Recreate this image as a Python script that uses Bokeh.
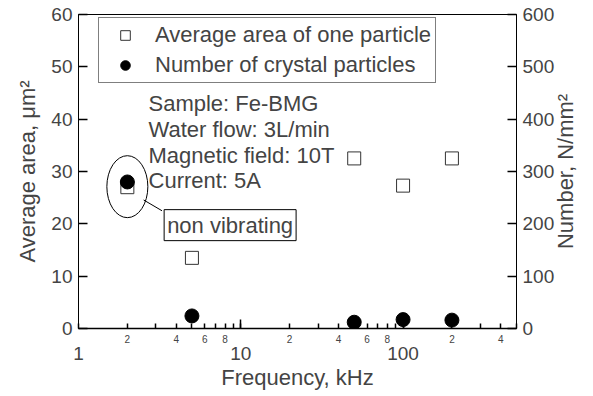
import math
from bokeh.plotting import figure
from bokeh.models import (Range1d, LinearAxis, LogAxis, FixedTicker, Legend, LegendItem,
                          Label)
from bokeh.embed import file_html
from bokeh.resources import INLINE

# ---- data ----
freq = [2, 5, 50, 100, 200]
avg_area = [27.0, 13.5, 32.5, 27.3, 32.5]
num_particles = [280, 24, 12, 17, 16]

y_left_ticks = [0, 10, 20, 30, 40, 50, 60]
y_right_ticks = [0, 100, 200, 300, 400, 500, 600]
x_major = [1, 10, 100]
x_minor = [2, 3, 4, 5, 6, 7, 8, 9, 20, 30, 40, 50, 60, 70, 80, 90, 200, 300, 400, 500]
x_minor_labels = {2: "2", 4: "4", 6: "6", 8: "8", 20: "2", 40: "4", 60: "6", 80: "8",
                  200: "2", 400: "4"}

info_lines = ["Sample: Fe-BMG", "Water flow: 3L/min", "Magnetic field: 10T", "Current: 5A"]
right_title = "Number, N/mm²"

FONT = "Liberation Sans"

p = figure(width=593, height=396, x_axis_type="log",
           x_range=Range1d(1, 500), y_range=Range1d(0, 60),
           x_axis_location=None, y_axis_location=None,
           output_backend="svg", toolbar_location=None,
           min_border_left=78, min_border_right=77, min_border_top=14, min_border_bottom=68)
p.extra_y_ranges = {"num": Range1d(0, 600)}
p.grid.visible = False
p.outline_line_color = "black"
p.outline_line_width = 1
p.background_fill_color = "white"
p.border_fill_color = "white"


def style_axis(ax, size="19px"):
    ax.major_label_text_font = FONT
    ax.major_label_text_font_size = size
    ax.axis_label_text_font = FONT
    ax.axis_label_text_font_size = "22px"
    ax.axis_label_text_font_style = "normal"
    ax.axis_line_color = "black"
    ax.major_tick_line_color = "black"
    ax.minor_tick_line_color = "black"


# left y axis
yl = LinearAxis(ticker=FixedTicker(ticks=y_left_ticks, minor_ticks=[]),
                axis_label="Average area, μm²")
style_axis(yl)
yl.major_tick_in = 9
yl.major_tick_out = 0
yl.major_tick_line_width = 1.5
yl.major_label_standoff = 6
yl.axis_label_standoff = 8
p.add_layout(yl, "left")

# right y axis (title reads bottom-to-top, starting from the lower part of the axis)
yr = LinearAxis(y_range_name="num", ticker=FixedTicker(ticks=y_right_ticks, minor_ticks=[]),
                axis_label="\u00a0" * 13 + right_title)
style_axis(yr)
yr.major_tick_in = 9
yr.major_tick_out = 0
yr.major_tick_line_width = 1.5
yr.major_label_standoff = 6
yr.axis_label_standoff = 8
yr.axis_label_orientation = math.pi / 2
yr.axis_label_align = "start"
p.add_layout(yr, "right")

# x axis: line, minor ticks and small labels
all_x = sorted(x_major + x_minor)
overrides = {t: x_minor_labels.get(t, "") for t in all_x}
xa = LogAxis(ticker=FixedTicker(ticks=all_x, minor_ticks=[]), major_label_overrides=overrides)
style_axis(xa, "10px")
xa.axis_line_width = 1.5
xa.major_tick_line_width = 1.5
xa.major_tick_in = 5
xa.major_tick_out = 0
xa.major_label_standoff = 6
p.add_layout(xa, "below")

# x axis: decade labels and title
xb = LogAxis(ticker=FixedTicker(ticks=x_major, minor_ticks=[]),
             major_label_overrides={t: str(t) for t in x_major},
             axis_label="Frequency, kHz")
style_axis(xb)
xb.axis_line_color = None
xb.major_tick_line_color = None
xb.major_tick_in = 0
xb.major_tick_out = 0
xb.major_label_standoff = 1
xb.axis_label_standoff = 2
p.add_layout(xb, "below")

# long decade ticks
xc = LogAxis(ticker=FixedTicker(ticks=x_major[1:], minor_ticks=[]), fixed_location=0,
             major_label_overrides={t: " " for t in x_major[1:]})
xc.axis_line_color = None
xc.major_label_text_font_size = "10px"
xc.major_tick_in = 9
xc.major_tick_out = 0
xc.major_tick_line_width = 1.5
xc.major_tick_line_color = "black"
p.add_layout(xc, "below")

# data
sq = p.scatter(freq, avg_area, marker="square", size=13, fill_color="white",
               line_color="#333333", line_width=1)
ci = p.scatter(freq, num_particles, marker="circle", size=14, fill_color="black",
               line_color="black", y_range_name="num")

legend = Legend(items=[LegendItem(label="Average area of one particle", renderers=[sq]),
                       LegendItem(label="Number of crystal particles", renderers=[ci])],
                location=(20, 245))
legend.label_text_font = FONT
legend.label_text_font_size = "22px"
legend.border_line_color = "black"
legend.border_line_width = 1
legend.background_fill_alpha = 1
legend.glyph_width = 44
legend.glyph_height = 24
legend.label_height = 24
legend.spacing = 4
legend.padding = 4
legend.label_standoff = 8
legend.label_width = 274
legend.margin = 0
p.add_layout(legend)

# info text block (positions in data coords)
info_x = 2.70
info_y = [42.9, 38.0, 33.0, 28.2]
for t, yy in zip(info_lines, info_y):
    p.add_layout(Label(x=info_x, y=yy, text=t, text_font=FONT, text_font_size="22px",
                       text_baseline="alphabetic", text_align="left"))

# ellipse around non-vibrating point
p.ellipse(x=[2], y=[27.1], width=41, height=62, width_units="screen", height_units="screen",
          fill_color=None, line_color="black", line_width=1)
p.segment(x0=[2.52], y0=[24.56], x1=[3.27], y1=[22.5], line_color="black", line_width=1)

p.add_layout(Label(x=3.37, y=19.75, text="non vibrating", text_font=FONT,
                   text_font_size="22px", text_baseline="middle", text_align="left",
                   border_line_color="black", border_line_width=1,
                   background_fill_color="white", padding=3))

open("out.html", "w").write(file_html(p, INLINE))
